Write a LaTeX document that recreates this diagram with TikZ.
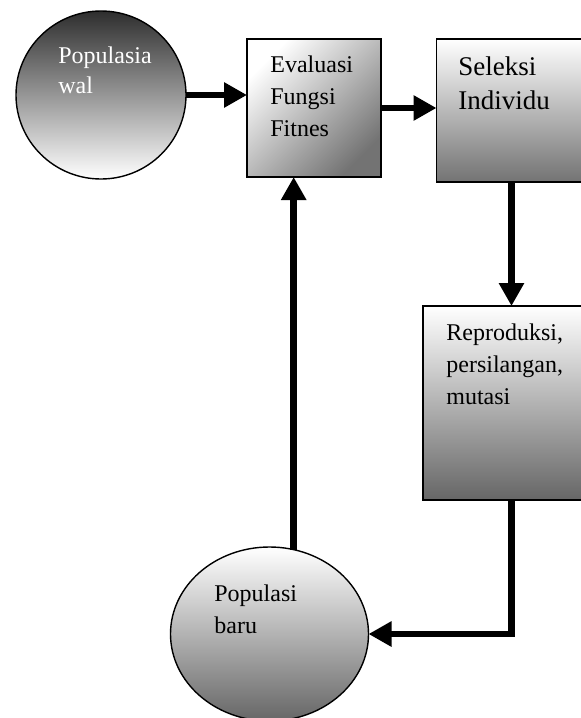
\documentclass[tikz,border=0pt]{standalone}
\usepackage{fontspec}
\setmainfont{Liberation Serif}
\usetikzlibrary{shapes.geometric, arrows.meta}

\tikzset{
  blok/.style={draw, line width=0.7pt, inner sep=0pt, outer sep=0pt},
  bulat/.style={blok, ellipse},
  teks/.style={inner sep=0pt, anchor=north west, align=left},
  panah/.style={line width=3.2pt, -{Triangle[length=11.5pt,width=12pt]}}
}

\begin{document}
\begin{tikzpicture}[x=0.5pt, y=-0.5pt]
       \clip (0,0) rectangle (581,718);

       \node[bulat, minimum width=85pt, minimum height=84pt,
             top color=black!82, bottom color=white] (awal) at (101,95) {};
       \node[blok, minimum width=67pt, minimum height=69pt,
             top color=white, bottom color=black!55, shading angle=45] (eval) at (314,108) {};
       \node[blok, minimum width=82pt, minimum height=71.5pt,
             top color=white, bottom color=black!55] (seleksi) at (518.5,110.5) {};
       \node[blok, minimum width=88.5pt, minimum height=97pt,
             top color=white, bottom color=black!60] (repro) at (511.5,403) {};
       \node[bulat, minimum width=99pt, minimum height=87pt,
             top color=white, bottom color=black!60] (baru) at (269.5,634) {};

       \node[teks, text=white, font=\fontsize{12}{15}\selectfont] (awalt) at (58,46) {Populasia\\wal};
       \node[teks, font=\fontsize{12}{16}\selectfont] (evalt) at (270,55) {Evaluasi\\Fungsi\\Fitnes};
       \node[teks, font=\fontsize{13.5}{17}\selectfont] (seleksit) at (458,56) {Seleksi\\Individu};
       \node[teks, font=\fontsize{12}{16}\selectfont] (reprot) at (446,323) {Reproduksi,\\persilangan,\\mutasi};
       \node[teks, font=\fontsize{12}{16}\selectfont] (barut) at (214,584) {Populasi\\baru};

       \draw[panah] (awal.east) -- (eval.west |- awal.east);
       \draw[panah] (eval.east) -- (seleksi.west |- eval.east);
       \draw[panah] (seleksi.south -| repro.north) -- (repro.north);
       \draw[panah] (repro.south) |- (baru.east);
       \draw[panah] (baru.74) -- (baru.74 |- eval.south);
\end{tikzpicture}
\end{document}
